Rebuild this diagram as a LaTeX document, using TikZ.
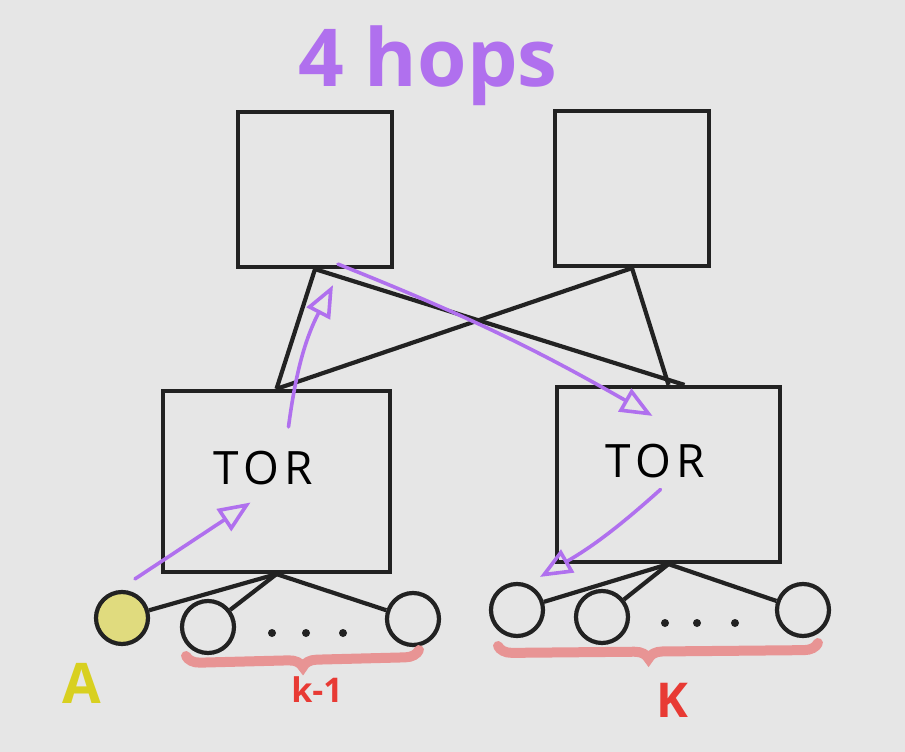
\documentclass[tikz,border=0pt]{standalone}
\usepackage{fontspec}
\setmainfont{Open Sans}
\usetikzlibrary{arrows.meta}
\usetikzlibrary{decorations.pathreplacing}
\usetikzlibrary{positioning}
\definecolor{paper}{HTML}{E6E6E6}
\definecolor{ink}{HTML}{222222}
\definecolor{hopclr}{HTML}{B070EE}
\definecolor{hostfill}{HTML}{E0DB7E}
\definecolor{braceclr}{HTML}{E89494}
\definecolor{countclr}{HTML}{E83A34}
\definecolor{labelclr}{HTML}{D8D020}
\tikzset{
  switch/.style={draw=ink, line width=4.2pt, minimum width=154pt, minimum height=155pt, inner sep=0pt},
  tor/.style={switch, label={[font=\fontsize{46}{50}\selectfont\addfontfeature{LetterSpace=12}, xshift=-13pt, yshift=13pt]center:TOR}},
  host/.style={circle, draw=ink, line width=4.2pt, minimum size=52pt, inner sep=0pt},
  link/.style={draw=ink, line width=4.2pt},
  hoparrow/.style={draw=hopclr, line width=3.6pt, line cap=round, -{Triangle[open,length=32pt,width=26pt]}},
  count/.style={draw=braceclr, line width=10pt, line cap=round, decorate, decoration={brace, amplitude=14pt, mirror}},
}

\begin{document}
\begin{tikzpicture}[x=1pt, y=-1pt]
    \fill[paper] (0,0) rectangle (905,752);
    \useasboundingbox (0,0) rectangle (905,752);

    % title
    \node[text=hopclr, font=\fontsize{80}{90}\selectfont\bfseries] (hops) at (428,66) {4 hops};

    % spine and top of rack switches
    \node[switch] (spineL) at (315,189.5) {};
    \node[switch] (spineR) at (632,188.5) {};
    \node[tor, minimum width=227pt, minimum height=181pt] (torL) at (276.5,481.5) {};
    \node[tor, minimum width=223pt, minimum height=175pt] (torR) at (668.5,474.5) {};

    % hosts
    \node[host, fill=hostfill] (hostA) at (122,618) {};
    \node[host] (hostL2) at (208,627) {};
    \node[host] (hostLn) at (413,619) {};
    \node[host] (hostR1) at (517,610) {};
    \node[host] (hostR2) at (602,617) {};
    \node[host] (hostRn) at (803,610) {};
    \foreach \x in {272,306,343} \fill[ink] (\x,633) circle (4pt);
    \foreach \x in {665,697,735} \fill[ink] (\x,623) circle (4pt);

    % links
    \draw[link] (spineL.south) -- (torL.north);
    \draw[link] (spineL.south) -- ([xshift=16pt]torR.north);
    \draw[link] (spineR.south) -- (torL.north);
    \draw[link] (spineR.south) -- (torR.north);
    \foreach \h in {hostA,hostL2,hostLn} \draw[link] (torL.south) -- (\h);
    \foreach \h in {hostR1,hostR2,hostRn} \draw[link] (torR.south) -- (\h);

    % path of the packet
    \draw[hoparrow] ([xshift=13pt,yshift=11pt]hostA.north) -- ([xshift=-26pt,yshift=-21pt]torL.center);
    \draw[hoparrow] ([xshift=12pt,yshift=-38pt]torL.north) to[bend left=10] ([xshift=18pt,yshift=-16pt]spineL.south);
    \draw[hoparrow] ([xshift=23pt,yshift=5pt]spineL.south) to[bend left=4] ([xshift=-16pt,yshift=-31pt]torR.north);
    \draw[hoparrow] ([xshift=-8pt,yshift=-15pt]torR.center) to[bend left=6] ([xshift=23pt,yshift=5pt]hostR1.north);

    % counts
    \coordinate (braceLa) at (186,656);
    \coordinate (braceLb) at (419,650);
    \coordinate (braceRa) at (498,646);
    \coordinate (braceRb) at (818,643);
    \draw[count] (braceLa) -- (braceLb);
    \draw[count, decoration={aspect=0.47}] (braceRa) -- (braceRb);
    \node[text=countclr, font=\fontsize{34}{40}\selectfont\bfseries] (countL) at (317,690) {k-1};
    \node[text=countclr, font=\fontsize{48}{54}\selectfont\bfseries] (countR) at (672,700) {K};
    \node[text=labelclr, font=\fontsize{56}{60}\selectfont\bfseries] (labelA) at (82,683) {A};
\end{tikzpicture}
\end{document}
